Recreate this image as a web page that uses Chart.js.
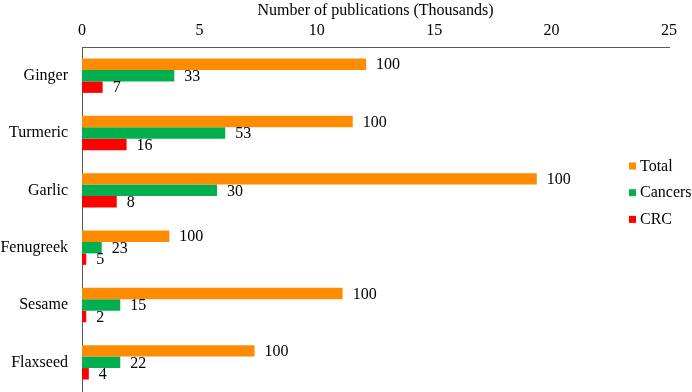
<!DOCTYPE html>
<html>
<head>
<meta charset="utf-8">
<script src="https://cdn.jsdelivr.net/npm/chart.js@4/dist/chart.umd.min.js"></script>
<style>
  html, body { margin: 0; padding: 0; background: #fff; overflow: hidden; }
  #wrap { position: relative; width: 692px; height: 392px; }
</style>
</head>
<body>
<div id="wrap"><canvas id="c"></canvas></div>
<script>
const categories = ["Ginger", "Turmeric", "Garlic", "Fenugreek", "Sesame", "Flaxseed"];
const seriesNames = ["Total", "Cancers", "CRC"];
const totalValues = [12.1, 11.53, 19.37, 3.72, 11.1, 7.35];
const cancerValues = [3.93, 6.1, 5.75, 0.84, 1.63, 1.63];
const crcValues = [0.88, 1.9, 1.48, 0.18, 0.18, 0.29];
const totalLabels = [100, 100, 100, 100, 100, 100];
const cancerLabels = [33, 53, 30, 23, 15, 22];
const crcLabels = [7, 16, 8, 5, 2, 4];
const xTicks = [0, 5, 10, 15, 20, 25];
const axisTitle = "Number of publications (Thousands)";

const colors = ["#FF8C00", "#00B050", "#FF0000"];
const FONT = "'Liberation Serif', 'Times New Roman', serif";

const labelPlugin = {
  id: 'barLabels',
  afterDatasetsDraw(chart) {
    const ctx = chart.ctx;
    ctx.save();
    ctx.font = "16px " + FONT;
    ctx.fillStyle = "#000";
    ctx.textBaseline = "middle";
    ctx.textAlign = "left";
    chart.data.datasets.forEach((ds, i) => {
      const meta = chart.getDatasetMeta(i);
      meta.data.forEach((bar, j) => {
        ctx.fillText(String(ds.pctLabels[j]), bar.x + 10, bar.y + 1);
      });
    });
    ctx.restore();
  }
};

const legendPlugin = {
  id: 'customLegend',
  afterDraw(chart) {
    const ctx = chart.ctx;
    ctx.save();
    ctx.font = "16px " + FONT;
    ctx.textBaseline = "middle";
    ctx.textAlign = "left";
    const x0 = 629, y0 = 166.5, dy = 26.7;
    chart.data.datasets.forEach((ds, i) => {
      const y = y0 + i * dy;
      ctx.fillStyle = ds.backgroundColor;
      ctx.fillRect(x0, y - 4, 7, 7);
      ctx.fillStyle = "#000";
      ctx.fillText(ds.label, x0 + 11, y);
    });
    ctx.restore();
  }
};

new Chart(document.getElementById('c'), {
  type: 'bar',
  data: {
    labels: categories,
    datasets: [
      { label: seriesNames[0], data: totalValues, pctLabels: totalLabels, backgroundColor: colors[0] },
      { label: seriesNames[1], data: cancerValues, pctLabels: cancerLabels, backgroundColor: colors[1] },
      { label: seriesNames[2], data: crcValues, pctLabels: crcLabels, backgroundColor: colors[2] }
    ]
  },
  options: {
    indexAxis: 'y',
    responsive: true,
    maintainAspectRatio: false,
    animation: false,
    devicePixelRatio: 1,
    layout: { padding: { left: 0, right: 23, top: 0, bottom: 1 } },
    datasets: { bar: { barPercentage: 1, categoryPercentage: 0.6, borderWidth: 0 } },
    plugins: { legend: { display: false }, tooltip: { enabled: false } },
    scales: {
      x: {
        position: 'top',
        min: 0, max: 25,
        afterBuildTicks(scale) { scale.ticks = xTicks.map(v => ({ value: v })); },
        afterFit(scale) { scale.height = 47; scale.paddingRight = 0; scale.paddingLeft = 0; },
        grid: { display: false, drawTicks: false },
        border: { display: true, color: '#595959', width: 1 },
        ticks: { color: '#000', font: { family: FONT, size: 16 }, padding: 7 },
        title: { display: true, text: axisTitle, color: '#000', font: { family: FONT, size: 16 }, padding: { top: 1, bottom: 0 } }
      },
      y: {
        afterFit(scale) { scale.width = 82; scale.paddingTop = 0; scale.paddingBottom = 0; },
        grid: { display: false, drawTicks: false },
        border: { display: true, color: '#595959', width: 1 },
        ticks: { color: '#000', font: { family: FONT, size: 16 }, padding: 14 }
      }
    }
  },
  plugins: [labelPlugin, legendPlugin]
});
</script>
</body>
</html>
